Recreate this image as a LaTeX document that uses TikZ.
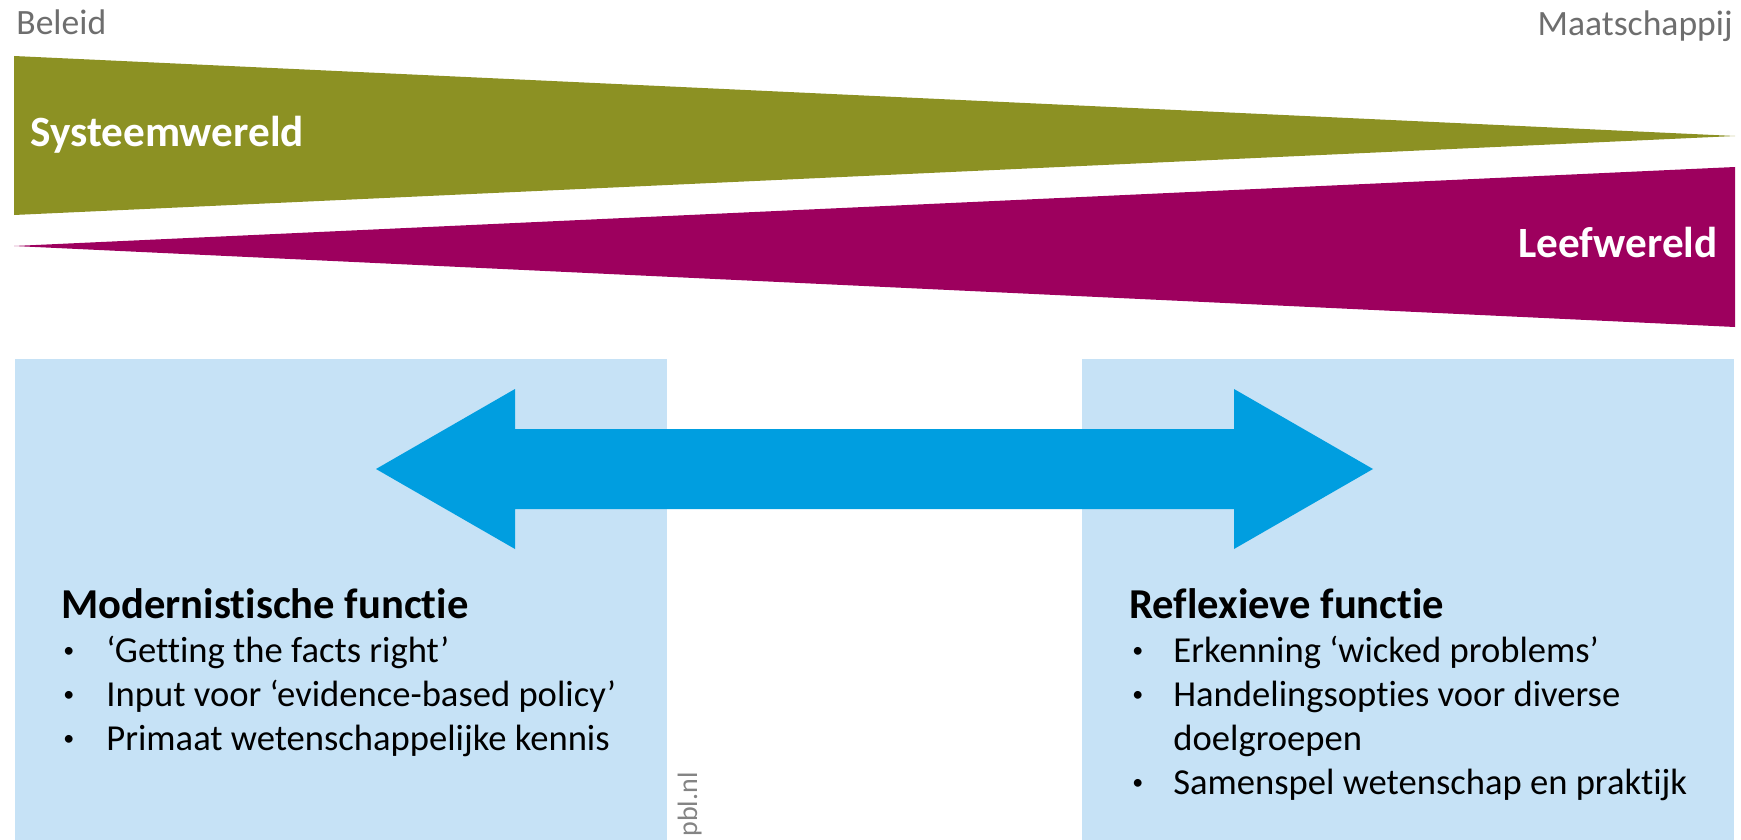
\documentclass[tikz,border=0pt]{standalone}
\usepackage{fontspec}
\setmainfont{Carlito}[Ligatures={NoCommon}]
\usetikzlibrary{positioning}
\definecolor{systeemcolor}{RGB}{140,145,35}
\definecolor{leefcolor}{RGB}{157,0,94}
\definecolor{boxcolor}{RGB}{198,226,246}
\definecolor{arrowcolor}{RGB}{0,158,224}
\definecolor{labelgray}{RGB}{110,110,110}
\newcommand{\functiebullet}{\raisebox{0.12em}{\scalebox{0.6}{\textbullet}}}

\begin{document}
\begin{tikzpicture}[
    x=0.5pt, y=-0.5pt,
    pole/.style={font=\fontsize{17.8}{20}\selectfont, text=labelgray, inner sep=0pt},
    wereld/.style={font=\fontsize{21.6}{24}\selectfont\bfseries, text=white, inner sep=0pt},
    box/.style={fill=boxcolor, anchor=north west, inner sep=0pt, minimum width=326pt, minimum height=240.5pt},
    functie/.style={anchor=base west, inner sep=0pt, align=left, font=\fontsize{18.3}{22}\selectfont}
]
    \useasboundingbox (0,0) rectangle (1741,840);

    % Beleid -- Maatschappij
    \node[pole, anchor=base west] (beleid) at (16,35) {Beleid};
    \node[pole, anchor=base east] (maatschappij) at (1733,36) {Maatschappij};

    % Wiggen
    \fill[systeemcolor] (14,56) -- (1735,136) -- (14,215) -- cycle;
    \fill[leefcolor] (14,246) -- (1735,167) -- (1735,327) -- cycle;
    \node[wereld, anchor=base west] (systeem) at (30,147) {Systeemwereld};
    \node[wereld, anchor=base east] (leef) at (1718,257) {Leefwereld};

    % Vlakken
    \node[box] (modernbox) at (15,359) {};
    \node[box] (reflexbox) at (1082,359) {};

    % Dubbele pijl
    \fill[arrowcolor] (376,469) -- (515,389) -- (515,429) -- (1234,429) -- (1234,389)
        -- (1373,469) -- (1234,549) -- (1234,509) -- (515,509) -- (515,549) -- cycle;

    % Functies
    \node[functie] (modern) at (61,618) {%
        \begin{tabular}[t]{@{}l@{}l@{}}
        \multicolumn{2}{@{}l@{}}{\fontsize{21.3}{22}\selectfont\bfseries Modernistische functie}\\
        \makebox[22.5pt][l]{\hspace{1pt}\functiebullet} & ‘Getting the facts right’\\
        \makebox[22.5pt][l]{\hspace{1pt}\functiebullet} & Input voor ‘evidence-based policy’\\
        \makebox[22.5pt][l]{\hspace{1pt}\functiebullet} & Primaat wetenschappelijke kennis
        \end{tabular}};
    \node[functie] (reflex) at (1129,618) {%
        \begin{tabular}[t]{@{}l@{}l@{}}
        \multicolumn{2}{@{}l@{}}{\fontsize{21.3}{22}\selectfont\bfseries Reflexieve functie}\\
        \makebox[22pt][l]{\hspace{1.5pt}\functiebullet} & Erkenning ‘wicked problems’\\
        \makebox[22pt][l]{\hspace{1.5pt}\functiebullet} & Handelingsopties voor diverse\\
        & doelgroepen\\
        \makebox[22pt][l]{\hspace{1.5pt}\functiebullet} & Samenspel wetenschap en praktijk
        \end{tabular}};

    % Bron
    \node[font=\fontsize{14}{16}\selectfont, text=labelgray!85, inner sep=0pt, rotate=90, anchor=base east] (bron) at (697,772) {pbl.nl};
\end{tikzpicture}
\end{document}
